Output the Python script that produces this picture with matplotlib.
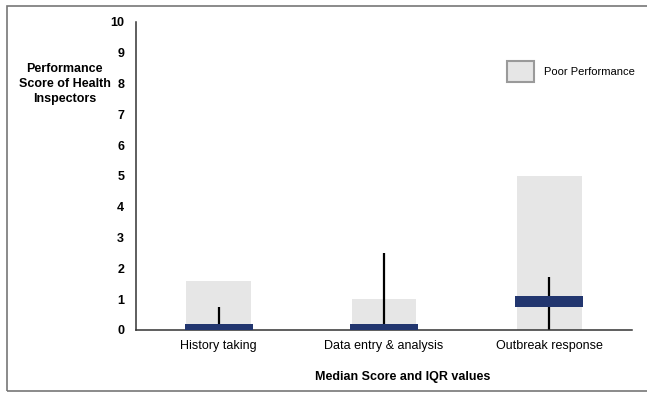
import numpy as np
import matplotlib
matplotlib.use("Agg")
import matplotlib.pyplot as plt
from matplotlib.patches import Patch, Rectangle

plt.rcParams['font.family'] = ['Liberation Sans', 'DejaVu Sans']

categories = ['History taking', 'Data entry & analysis', 'Outbreak response']
poor_top = [1.6, 1.0, 5.0]          # grey "poor performance" band
median_low = [0.0, 0.0, 0.75]
median_high = [0.2, 0.2, 1.1]
whisker_low = [0.0, 0.0, 0.0]
whisker_high = [0.75, 2.5, 1.72]
yticks = list(range(0, 11))

W, H = 647, 393
fig = plt.figure(figsize=(W / 100, H / 100), dpi=100)
ax = fig.add_axes([136 / W, 1 - 330 / H, (632 - 136) / W, (330 - 22) / H])

x = np.arange(len(categories))
grey = '#e6e6e6'
navy = '#22366f'

ax.bar(x, poor_top, width=0.39, color=grey, zorder=1)
ax.vlines(x, whisker_low, whisker_high, color='black', lw=1.6, zorder=2)
ax.bar(x, np.array(median_high) - np.array(median_low), bottom=median_low,
       width=0.41, color=navy, zorder=3)

ax.set_xlim(-0.5, 2.5)
ax.set_ylim(0, 10)
ax.set_yticks(yticks)
ax.set_yticklabels([str(t) for t in yticks], fontweight='bold', fontsize=9)
ax.set_xticks(x)
ax.set_xticklabels(categories, fontsize=9)
ax.tick_params(axis='y', length=0, pad=8.5)
ax.tick_params(axis='x', length=0, pad=7)
for s in ['top', 'right']:
    ax.spines[s].set_visible(False)
for s in ['left', 'bottom']:
    ax.spines[s].set_color('#333333')
    ax.spines[s].set_linewidth(1.1)

fig.text(64.5 / W, 1 - 84 / H, 'Performance\nScore of Health\nInspectors',
         ha='center', va='center', fontsize=9, fontweight='bold', linespacing=1.3)
fig.text(403 / W, 1 - 377 / H, 'Median Score and IQR values',
         ha='center', va='center', fontsize=9, fontweight='bold')

handle = Patch(facecolor=grey, edgecolor='#9a9a9a', linewidth=1.5)
fig.legend([handle], ['Poor Performance'], loc='center left',
           bbox_to_anchor=(507 / W, 1 - 71.5 / H), bbox_transform=fig.transFigure,
           frameon=False, fontsize=8, handlelength=2.4, handleheight=2.4,
           handletextpad=0.9, borderpad=0, borderaxespad=0)

fig.add_artist(Rectangle((7 / W, 1 - 391 / H), 1.0, (391 - 6) / H,
                         transform=fig.transFigure, fill=False,
                         edgecolor='#777777', lw=1.2))

fig.savefig('out.png', dpi=100)
